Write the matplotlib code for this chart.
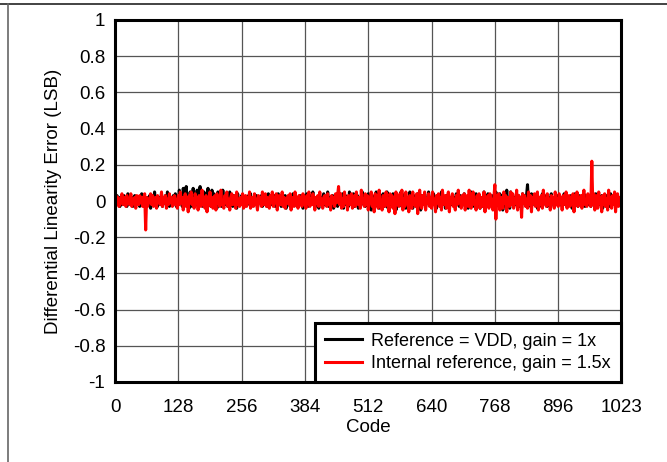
#! /usr/bin/env python
# -*- coding: utf-8 -*-

import numpy as np
import matplotlib
matplotlib.use('Agg')
import matplotlib.pyplot as plt
from matplotlib.lines import Line2D

# DNL per code, in units of 0.01 LSB, one sample every 2 codes
dnl_vdd = [
    1, -2, 3, -1, 2, -3, 1, 0, -2, 3, -1, 2, -3, 4, -1, 1, -2, 2, -3, 1, 3, -2, 0, -1, 2, -3, 1, 4, -2, 1, -1, 2,
    -3, 2, -1, 3, -4, 1, 2, -2, 5, -1, 0, -3, 2, 1, -2, 4, -3, 1, -1, 3, -2, 5, -1, -3, 2, 0, -2, 3, -1, 4, -3, 2,
    -2, 6, -1, 3, -3, 7, 1, -2, 8, -1, 2, -4, 5, 0, -3, 7, -2, 3, -1, 6, -3, 2, 8, -2, 1, -3, 5, -1, 3, -4, 7, -2,
    2, -3, 6, -1, 4, -2, 1, -4, 5, 0, -2, 3, -3, 6, -1, 2, -2, 4, -3, 1, 5, -2, 0, -3, 3, -1, 2, -4, 4, -2, 1, -1,
    3, -2, 1, -3, 2, 0, -1, 3, -2, 4, -3, 1, -1, 2, -2, 3, -4, 1, 2, -1, 3, -3, 0, 2, -2, 1, -3, 4, -1, 2, -2, 1,
    -1, 3, -3, 2, -2, 4, -1, 0, -3, 2, 1, -2, 3, -4, 2, -1, 1, -3, 3, -2, 4, -1, -2, 2, -3, 1, 0, 3, -2, 2, -4, 1,
    2, -1, 4, -3, 1, -2, 3, -1, 5, -2, 0, -3, 2, 1, -4, 3, -1, 2, -3, 4, -2, 1, -1, 5, -3, 2, -2, 1, 3, -4, 2, -1,
    1, -3, 5, -1, 2, -2, 4, -4, 1, 3, -2, 0, -3, 5, -1, 2, -2, 4, -3, 1, -1, 3, -4, 2, 0, -2, 5, -1, 3, -3, 1, -2,
    4, -2, 1, -5, 3, -1, 2, -3, 5, -2, 0, -4, 3, 1, -2, 4, -3, 2, -1, 5, -4, 1, 3, -2, -1, 4, -3, 2, -5, 1, 3, -1,
    -2, 5, -3, 1, -1, 4, -4, 2, 0, -3, 5, -1, 2, -4, 3, -2, 1, -3, 4, -1, 2, -5, 3, 0, -2, 4, -3, 1, -1, 5, -2, 2,
    -3, 1, 4, -2, 2, -4, 3, -1, 1, -3, 5, -2, 0, 2, -4, 3, -1, 4, -3, 1, -2, 3, -1, 2, -4, 4, -2, 1, -3, 3, -1, 2,
    -2, 4, -3, 1, 0, -4, 3, -2, 5, -1, 2, -3, 1, 4, -2, -1, 3, -4, 2, 0, -3, 5, -1, 2, -2, 4, -3, 1, -1, 3, -2, 2,
    -4, 5, -2, 1, -3, 4, -1, 3, -5, 2, 0, -3, 6, -2, 1, -4, 5, -1, 3, -3, 2, -2, 4, -1, 3, -3, 2, -4, 4, -1, 1, -2,
    3, 9, -2, 1, -3, 4, -1, 2, -2, 0, 3, -4, 1, -1, 2, -3, 4, -2, 1, -1, 3, -3, 2, 0, -2, 4, -1, 1, -3, 2, -2, 3,
    -2, 3, -1, 2, -3, 1, 4, -2, 1, -3, 2, 0, -1, 3, -4, 2, -2, 4, -1, 1, -3, 3, -2, 1, 0, -2, 4, -3, 2, -1, 3, -2,
    1, -3, 3, -1, 2, -2, 4, -1, -3, 2, 1, -2, 3, -4, 1, 0, -2, 3, -1, 2, -3, 4, -2, 1, -1, 2, -3, 3, -2, 1, 2, -1,
]

dnl_int = [
    -1, 3, -2, 2, -3, 1, -1, 4, -2, 0, 2, -3, 3, -1, 1, -2, 4, -3, 1, -1, 2, -4, 3, 0, -2, 3, -1, 2, -3, 1, 4, -16,
    2, -3, 1, -1, 4, -2, 3, -3, 0, 2, -4, 3, -1, 1, -2, 5, -3, 2, -1, 3, -4, 1, -2, 4, -1, 2, -3, 0, 3, -2, 1, -4,
    3, -2, 5, -1, 2, -5, 1, 4, -3, 2, -6, 3, -1, 5, -2, 1, -4, 4, -1, 2, -5, 3, 0, -3, 6, -2, 1, -4, 3, -6, 2, -1,
    5, -3, 2, -4, 1, 3, -5, 4, -1, 2, -3, 6, -2, 0, -4, 3, -1, 5, -3, 1, -5, 2, 4, -2, -1, 3, -4, 5, -2, 1, -3, 2,
    -2, 4, -4, 1, 3, -3, 2, -1, 5, -4, 0, 2, -3, 4, -2, 1, -5, 3, -1, 2, -3, 5, -2, -1, 4, -3, 2, 0, -4, 3, -1, 5,
    -3, 2, -1, 4, -5, 1, 3, -2, 0, 5, -3, 2, -4, 1, -1, 3, -2, 4, -5, 2, 0, -3, 5, -1, 2, -4, 3, -2, 1, -3, 4, -1,
    2, -4, 3, -1, 5, -3, 1, -2, 4, 0, -5, 2, -1, 3, -3, 5, -2, 1, -4, 2, 3, -1, -3, 4, -2, 1, -5, 3, -1, 2, -3, 4,
    -1, 3, 8, -2, 4, -4, 1, -3, 5, -1, 2, -5, 3, 0, -2, 4, -4, 1, 3, -3, 5, -1, -2, 2, -4, 6, -1, 1, -3, 4, -2, 3,
    -5, 2, -1, 5, -3, 1, -6, 4, -2, 3, -4, 6, -1, 0, -5, 3, 2, -3, 5, -2, 1, -6, 4, -1, 3, -4, 2, -7, 5, -2, 1, -3,
    4, -2, 6, -5, 1, -3, 5, -1, 2, -6, 3, 0, -4, 5, -2, 1, -3, 4, -7, 2, 6, -1, -4, 3, -2, 5, -5, 1, -1, 4, -3, 2,
    -4, 5, -2, 1, -6, 3, -1, 4, -3, 2, -5, 6, 0, -2, 3, -4, 1, 5, -6, 2, -1, 4, -3, 1, -5, 3, -2, 6, -1, 2, -4, 3,
    -2, 4, -5, 1, 3, -3, 6, -1, -4, 2, 5, -2, 0, -5, 3, -1, 4, -4, 2, 1, -3, 5, -6, 2, -1, 3, -4, 4, -2, 1, -5, 2,
    9, -10, 3, -2, 4, -5, 1, 2, -4, 5, -1, 3, -6, 2, 0, -3, 5, -2, 4, -4, 1, -1, 6, -5, 3, -2, 2, -9, 4, -1, 3, -3,
    1, -4, 5, -2, 3, -6, 2, -1, 4, -3, 1, 5, -5, 2, -2, 3, -4, 6, -1, 0, -3, 4, -2, 1, -5, 3, -1, 2, -4, 5, -2, 1,
    -3, 4, -1, 2, -5, 3, 0, -2, 5, -4, 1, 3, -3, 2, -1, 4, -6, 2, -2, 5, -3, 1, -1, 3, -4, 2, 6, -2, 0, -3, 4, -1,
    2, -3, 22, -2, 4, -5, 1, 3, -4, 5, -1, 2, -6, 3, -2, 4, -3, 1, -5, 6, -1, 2, -4, 3, -2, 5, -6, 1, 4, -3, 2, -2,
]

x_ticks = [0, 128, 256, 384, 512, 640, 768, 896, 1023]
y_ticks = [-1, -0.8, -0.6, -0.4, -0.2, 0, 0.2, 0.4, 0.6, 0.8, 1]
y_labels = ['-1', '-0.8', '-0.6', '-0.4', '-0.2', '0', '0.2', '0.4', '0.6', '0.8', '1']
labels = ['Reference = VDD, gain = 1x', 'Internal reference, gain = 1.5x']

if __name__ == '__main__':
    plt.rcParams['font.family'] = ['Liberation Sans', 'DejaVu Sans']
    plt.rcParams['font.size'] = 13.5

    code = np.arange(len(dnl_vdd)) * 2
    vdd = np.array(dnl_vdd) / 100.0
    internal = np.array(dnl_int) / 100.0

    fig = plt.figure(figsize=(6.67, 4.62), dpi=100)
    ax = fig.add_axes([115 / 667, 80 / 462, 506 / 667, 362 / 462])

    # page border pieces
    fig.add_artist(Line2D([0, 1], [1 - 4 / 462] * 2, color='#222222', lw=1.2))
    fig.add_artist(Line2D([8 / 667] * 2, [0, 1 - 4 / 462], color='#666666', lw=1.2))

    ax.plot(code, vdd, color='black', lw=2.2, label=labels[0])
    ax.plot(code, internal, color='red', lw=2.2, label=labels[1])

    ax.set_xlim(0, 1023)
    ax.set_ylim(-1, 1)
    ax.set_xticks(x_ticks)
    ax.set_yticks(y_ticks)
    ax.set_yticklabels(y_labels)
    ax.tick_params(length=0, labelsize=13.5)
    ax.tick_params(axis='x', pad=12)
    ax.tick_params(axis='y', pad=7)
    ax.grid(True, color='#555555', lw=0.9)
    ax.set_axisbelow(True)
    for sp in ax.spines.values():
        sp.set_linewidth(2.2)

    ax.set_xlabel('Code', labelpad=2.5)
    ax.set_ylabel('Differential Linearity Error (LSB)', labelpad=8)

    leg = ax.legend(loc='lower right', borderaxespad=0, fancybox=False,
                    framealpha=1, edgecolor='black', handlelength=2.0,
                    handletextpad=0.55, borderpad=0.55, labelspacing=0.3,
                    fontsize=13)
    leg.get_frame().set_linewidth(2.2)

    fig.savefig('out.png', dpi=100)
